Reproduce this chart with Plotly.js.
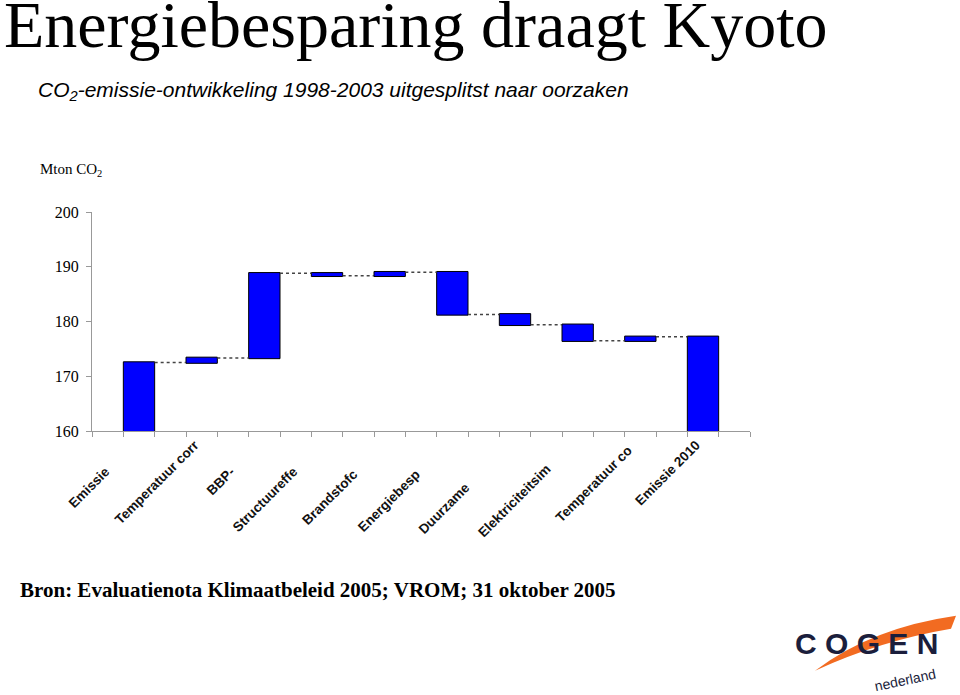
<!DOCTYPE html>
<html>
<head>
<meta charset="utf-8">
<script src="https://cdn.plot.ly/plotly-3.0.1.min.js"></script>
<style>html,body{margin:0;padding:0;background:#fff;}#chart{width:960px;height:695px;}</style>
</head>
<body>
<div id="chart"></div>
<script>
// ---- data ----
const categories = ["Emissie", "Temperatuur corr", "BBP-", "Structuureffe", "Brandstofc", "Energiebesp", "Duurzame", "Elektriciteitsim", "Temperatuur co", "Emissie 2010"];
const measures = ["absolute", "relative", "relative", "relative", "relative", "relative", "relative", "relative", "relative", "total"];
const values = [172.5, 0.85, 15.45, -0.45, 0.65, -7.7, -1.9, -2.9, 0.7, 0];
const yTicks = [160, 170, 180, 190, 200];
const titleText = "Energiebesparing draagt Kyoto";
const subtitleText = "<i>CO<sub>2</sub>-emissie-ontwikkeling 1998-2003 uitgesplitst naar oorzaken</i>";
const unitText = "Mton CO<sub>2</sub>";
const sourceText = "<b>Bron: Evaluatienota Klimaatbeleid 2005; VROM; 31 oktober 2005</b>";

// ---- layout helpers (pixel -> paper) ----
const L = 92, R = 750, T = 211.7, B = 431;
const px = x => (x - L) / (R - L);
const py = y => (B - y) / (B - T);
// the source chart has 21 slots: bars in every other slot, connectors in between
const slotCount = 2 * categories.length + 1;
const xPos = categories.map((c, i) => 2 * i + 1.5);
const pad = [10, 0, 10, 10, 11, 11, 16, 9, 2, 0];
const NB = "\u00a0";
const tickText = categories.map((c, i) => c + NB.repeat(pad[i]));

const barStyle = {marker: {color: "#0000FF", line: {color: "#000000", width: 1}}};

const trace = {
  type: "waterfall",
  x: xPos,
  y: values,
  measure: measures,
  width: 1,
  textposition: "none",
  hoverinfo: "skip",
  increasing: barStyle,
  decreasing: barStyle,
  totals: barStyle,
  connector: {mode: "between", line: {color: "#444", width: 1.5, dash: "dot"}}
};

const swoosh = (() => {
  const p = (x, y) => px(x).toFixed(4) + "," + py(y).toFixed(4);
  return "M " + p(815, 671) + " Q " + p(872, 628) + " " + p(956, 616) +
         " L " + p(951, 629) + " Q " + p(880, 641) + " " + p(815, 671) + " Z";
})();

const layout = {
  width: 960, height: 695, autosize: false,
  margin: {l: L, r: 960 - R, t: T, b: 695 - B, pad: 0},
  paper_bgcolor: "#fff", plot_bgcolor: "#fff",
  showlegend: false,
  xaxis: {
    type: "linear", range: [0, slotCount], tickmode: "array", tickvals: xPos, ticktext: tickText,
    ticks: "", ticklen: 0, ticklabelshift: -7,
    minor: {tickmode: "linear", tick0: 0, dtick: 1, ticks: "outside", ticklen: 5, tickcolor: "#999", showgrid: false},
    showline: true, linecolor: "#999", linewidth: 1, showgrid: false, zeroline: false,
    tickangle: -45, automargin: false,
    tickfont: {family: "Liberation Sans, Arial", size: 13.5, color: "#111", weight: "bold"}
  },
  yaxis: {
    range: [160, 200], tickvals: yTicks, ticks: "outside", ticklen: 5, tickcolor: "#999",
    showline: true, linecolor: "#999", linewidth: 1, showgrid: false, zeroline: false,
    automargin: false, ticklabelstandoff: 4,
    tickfont: {family: "Liberation Serif, Times New Roman", size: 16, color: "#000"}
  },
  shapes: [
    {type: "path", xref: "paper", yref: "paper", path: swoosh,
     fillcolor: "#F26B21", line: {width: 0}, layer: "above"}
  ],
  annotations: [
    {text: titleText, xref: "paper", yref: "paper", x: px(2), y: py(62), xanchor: "left", yanchor: "bottom",
     showarrow: false, font: {family: "Liberation Serif, Times New Roman", size: 66, color: "#000"}},
    {text: subtitleText, xref: "paper", yref: "paper", x: px(36), y: py(106), xanchor: "left", yanchor: "bottom",
     showarrow: false, font: {family: "Liberation Sans, Arial", size: 21, color: "#000"}},
    {text: unitText, xref: "paper", yref: "paper", x: px(38), y: py(181), xanchor: "left", yanchor: "bottom",
     showarrow: false, font: {family: "Liberation Serif, Times New Roman", size: 15, color: "#000"}},
    {text: sourceText, xref: "paper", yref: "paper", x: px(18), y: py(604), xanchor: "left", yanchor: "bottom",
     showarrow: false, font: {family: "Liberation Serif, Times New Roman", size: 21, color: "#000"}},
    {text: "<b>C O G E N</b>", xref: "paper", yref: "paper", x: px(793), y: py(662), xanchor: "left", yanchor: "bottom",
     showarrow: false, font: {family: "Liberation Sans, Arial", size: 30, color: "#1B1E3C"}},
    {text: "nederland", xref: "paper", yref: "paper", x: px(905), y: py(680), xanchor: "center", yanchor: "middle",
     textangle: -12, showarrow: false, font: {family: "Liberation Sans, Arial", size: 14, color: "#1B1E3C"}}
  ]
};

Plotly.newPlot("chart", [trace], layout, {staticPlot: true, displayModeBar: false});
</script>
</body>
</html>
